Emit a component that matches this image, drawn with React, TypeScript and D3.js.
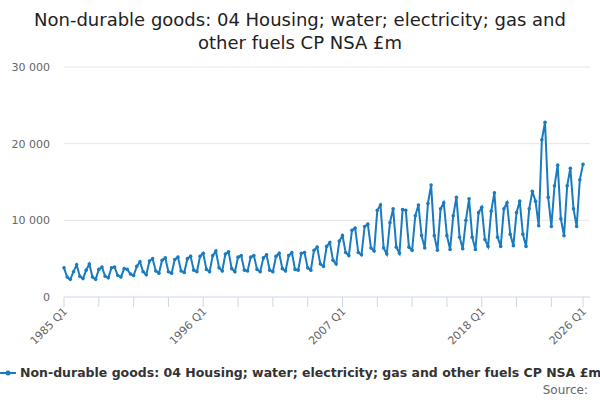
import React, { useEffect, useRef } from "react"
import * as d3 from "d3"

const startYear = 1985
// quarterly values, Q1..Q4 per year, £m
const values = [
  3800, 2600, 2300, 3300,
  4200, 2700, 2400, 3500,
  4300, 2600, 2300, 3600,
  3900, 2700, 2500, 3800,
  3900, 2800, 2600, 3700,
  3600, 3000, 2800, 4000,
  4600, 3300, 2900, 4700,
  5000, 3400, 3100, 4800,
  5100, 3300, 3100, 4900,
  5200, 3400, 3200, 5000,
  5300, 3500, 3300, 5300,
  5700, 3600, 3300, 5400,
  6000, 3800, 3400, 5600,
  5900, 3700, 3300, 5200,
  5400, 3500, 3400, 5200,
  5400, 3600, 3300, 5100,
  5500, 3500, 3300, 5300,
  5700, 3700, 3400, 5400,
  5800, 3600, 3500, 5700,
  5800, 3800, 3500, 6100,
  6500, 4300, 4000, 6600,
  7100, 4800, 4300, 7300,
  8000, 5800, 5400, 8700,
  9000, 5800, 5500, 9200,
  9500, 6400, 6000, 11300,
  12000, 6400, 5600, 9700,
  11500, 6500, 5700, 11400,
  11300, 6500, 6100, 10600,
  12000, 8000, 6400, 12200,
  14600, 8000, 6100, 11500,
  12300, 8000, 6200, 10600,
  13000, 7800, 6300, 10000,
  12800, 7800, 6200, 11000,
  11700, 7500, 6600, 11200,
  13600, 7800, 6600, 11500,
  12300, 8200, 6700, 11000,
  12500, 8200, 6600, 11500,
  13800, 12500, 9300, 20500,
  22800, 13000, 9200, 14500,
  17200, 10200, 8000, 14500,
  16800, 11500, 9200, 15300,
  17300,
]
const labels = values.map((_, i) => `${startYear + Math.floor(i / 4)} Q${(i % 4) + 1}`)
const yTicks = [0, 10000, 20000, 30000]
const labelIdx = [0, 44, 88, 132, 164]
const seriesName = "Non-durable goods: 04 Housing; water; electricity; gas and other fuels CP NSA £m"
const colour = "#1a7bbf"
const font = "'DejaVu Sans', sans-serif"

export default function App() {
  const ref = useRef(null)
  useEffect(() => {
    const svg = d3.select(ref.current)
    svg.selectAll("*").remove()
    const x = d3.scaleLinear().domain([0, values.length - 1]).range([64, 583])
    const y = d3.scaleLinear().domain([0, 30000]).range([297, 67])
    const fmt = (v) => d3.format(",")(v).replace(/,/g, " ")

    svg.append("text").attr("x", 300).attr("y", 26).attr("text-anchor", "middle")
      .attr("font-size", 18).attr("fill", "#222").text("Non-durable goods: 04 Housing; water; electricity; gas and")
    svg.append("text").attr("x", 300).attr("y", 49).attr("text-anchor", "middle")
      .attr("font-size", 18).attr("fill", "#222").text("other fuels CP NSA £m")

    yTicks.forEach(t => {
      svg.append("line").attr("x1", 64).attr("x2", 590).attr("y1", y(t)).attr("y2", y(t))
        .attr("stroke", t === 0 ? "#ccd6eb" : "#e6e6e6")
      svg.append("text").attr("x", 50).attr("y", y(t) + 4).attr("text-anchor", "end")
        .attr("font-size", 11).attr("fill", "#666").text(fmt(t))
    })

    const tickIdx = d3.range(0, values.length, 11).concat([values.length - 1])
    tickIdx.forEach(i => {
      svg.append("line").attr("x1", x(i)).attr("x2", x(i)).attr("y1", 297).attr("y2", 307)
        .attr("stroke", "#ccd6eb")
    })
    labelIdx.forEach(i => {
      svg.append("text").attr("transform", `translate(${x(i) + 4},${312}) rotate(-45)`)
        .attr("text-anchor", "end").attr("font-size", 11).attr("fill", "#666").text(labels[i])
    })

    const line = d3.line().x((d, i) => x(i)).y(d => y(d))
    svg.append("path").datum(values).attr("d", line).attr("fill", "none")
      .attr("stroke", colour).attr("stroke-width", 2)
    svg.selectAll(".pt").data(values).enter().append("circle")
      .attr("cx", (d, i) => x(i)).attr("cy", d => y(d)).attr("r", 1.8).attr("fill", colour)

    const lg = svg.append("g").attr("transform", "translate(0,373)")
    lg.append("line").attr("x1", 0).attr("x2", 16).attr("y1", 0).attr("y2", 0)
      .attr("stroke", colour).attr("stroke-width", 2)
    lg.append("circle").attr("cx", 8).attr("cy", 0).attr("r", 2.5).attr("fill", colour)
    lg.append("text").attr("x", 20).attr("y", 4).attr("font-size", 12.5).attr("font-weight", "bold")
      .attr("fill", "#333").text(seriesName)
    svg.append("text").attr("x", 588).attr("y", 394).attr("text-anchor", "end")
      .attr("font-size", 12).attr("fill", "#666").text("Source:")
  }, [])
  return (
    <svg ref={ref} width={600} height={400}
      style={{ position: "fixed", left: 0, top: 0, fontFamily: font, background: "#fff" }} />
  )
}
